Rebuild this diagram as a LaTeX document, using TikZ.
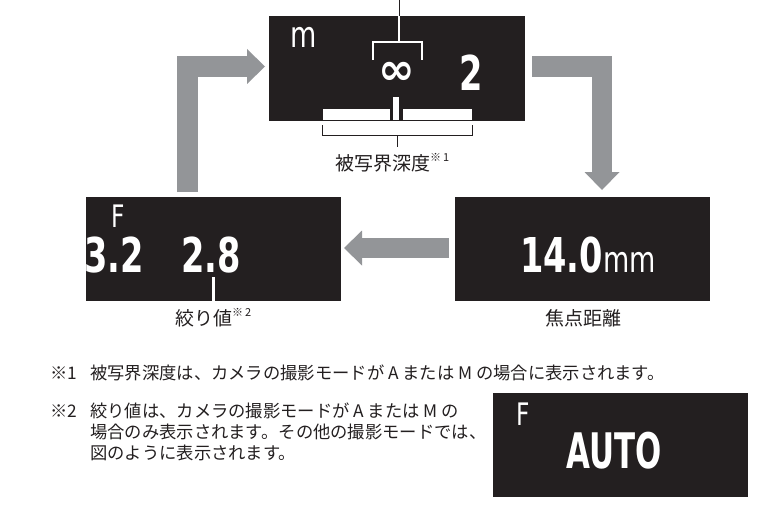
\documentclass[tikz,border=0pt]{standalone}
\usepackage{fontspec}
\usetikzlibrary{arrows.meta}
\newfontfamily\jp{Noto Sans CJK JP}
\newfontfamily\dv{DejaVu Sans}
\newfontfamily\lcdB[FakeStretch=0.7]{DejaVu Sans}
\newfontfamily\lcdA[FakeStretch=0.63]{DejaVu Sans}
\newfontfamily\lcdR[FakeStretch=0.75]{DejaVu Sans}
\definecolor{lcdbg}{HTML}{231F20}
\definecolor{arrowgray}{HTML}{939598}
\definecolor{ink}{HTML}{231F20}
\tikzset{
 lcd/.style={fill=lcdbg, draw=none, inner sep=0pt},
 blockarrow/.style={draw=arrowgray, line width=20.5pt, line join=miter, -{Triangle[length=18pt,width=35pt,line width=0pt]}},
 lbl/.style={inner sep=0pt, anchor=base west, text=ink, font=\jp\fontsize{19}{19}\selectfont},
 note/.style={inner sep=0pt, anchor=base west, text=ink, font=\jp\fontsize{17.3}{17.3}\selectfont},
 digit/.style={inner sep=0pt, anchor=base west, text=white, font=\lcdB\bfseries\fontsize{48}{48}\selectfont},
 unit/.style={inner sep=0pt, anchor=base west, text=white, font=\lcdR\fontsize{36}{36}\selectfont},
 flab/.style={inner sep=0pt, anchor=base west, text=white, font=\lcdR\fontsize{31}{31}\selectfont},
 wline/.style={draw=white, line width=1.3pt},
 kline/.style={draw=ink, line width=1pt},
}
\newcommand{\supnote}[1]{{\fontsize{11}{11}\selectfont\raisebox{8.5pt}{※\,#1}}}
\begin{document}
\begin{tikzpicture}[x=1pt,y=-1pt]
\useasboundingbox (0,0) rectangle (770,516);
% boxes
\node[lcd, minimum width=256pt, minimum height=105pt] (topbox) at (397,68.5) {};
\node[lcd, minimum width=255pt, minimum height=104pt] (lbox) at (213.5,249) {};
\node[lcd, minimum width=255pt, minimum height=104pt] (rbox) at (582.5,249) {};
\node[lcd, minimum width=255pt, minimum height=104pt] (abox) at (620.5,445) {};
% arrows
\coordinate (a1s) at (187.5,192); \coordinate (a1e) at (265,66.5);
\draw[blockarrow] (a1s) |- (a1e);
\coordinate (a2s) at (532,66.5); \coordinate (a2e) at (602,190);
\draw[blockarrow] (a2s) -| (a2e);
\coordinate (a3s) at (449,248); \coordinate (a3e) at (344,248);
\draw[blockarrow] (a3s) -- (a3e);
% top box content
\node[unit] (mU) at (290,48) {m};
\node[digit] (two) at (459,91) {2};
\node[inner sep=0pt, text=white, font=\dv\bfseries\fontsize{44}{44}\selectfont] (inf) at (397,73) {∞};
\draw[kline] (399,0) -- (399,16);
\draw[wline] (399,16) -- (399,42);
\draw[wline] (373,60) -- (373,42) -- (422,42) -- (422,60);
\fill[white] (323,109.3) rectangle (390,120);
\fill[white] (393.3,97) rectangle (399.3,120);
\fill[white] (403.3,109.3) rectangle (472,120);
\draw[kline] (322,125) -- (322,135) -- (472,135) -- (472,125);
\draw[kline] (397,135) -- (397,147);
\node[lbl] (dof) at (335,170) {被写界深度\supnote{1}};
% left box
\node[flab] (lF) at (111,227) {F};
\begin{scope}
\clip (lbox.south west) rectangle (lbox.north east);
\node[digit] (v32) at (84,272) {3.2};
\end{scope}
\node[digit] (v28) at (181,272) {2.8};
\fill[white] (211.7,277) rectangle (214.7,301);
\node[lbl] (fnum) at (175,325) {絞り値\supnote{2}};
% right box
\node[inner sep=0pt, anchor=base west, text=white] (focal) at (520,272) {{\lcdB\bfseries\fontsize{48}{48}\selectfont 14.0}{\lcdR\fontsize{36}{36}\selectfont mm}};
\node[lbl] (fdist) at (545,325) {焦点距離};
% auto box
\node[flab] (aF) at (516,425) {F};
\node[inner sep=0pt, anchor=base west, text=white, font=\lcdA\bfseries\fontsize{49}{49}\selectfont] (auto) at (566,468) {AUTO};
% notes
\node[note] (n1m) at (50,379.5) {※1};
\node[note] (n1) at (90,379.5) {被写界深度は、カメラの撮影モードが A または M の場合に表示されます。};
\node[note] (n2m) at (50,417.5) {※2};
\node[note] (n2a) at (90,417.5) {絞り値は、カメラの撮影モードが A または M の};
\node[note] (n2b) at (90,438.5) {場合のみ表示されます。その他の撮影モードでは、};
\node[note] (n2c) at (90,459.5) {図のように表示されます。};
\end{tikzpicture}
\end{document}
